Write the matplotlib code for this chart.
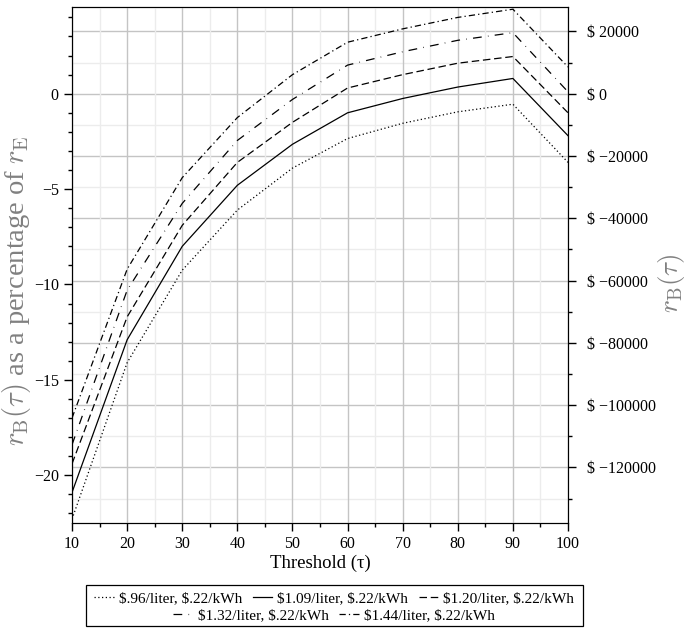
import matplotlib
matplotlib.use('Agg')
import matplotlib.pyplot as plt
from matplotlib.ticker import MultipleLocator, FuncFormatter
from matplotlib.patches import Rectangle
from matplotlib.lines import Line2D

plt.rcParams['font.family'] = 'Liberation Serif'
plt.rcParams['mathtext.fontset'] = 'cm'

# umbral (tau)
umbral = [10, 20, 30, 40, 50, 60, 70, 80, 90, 100]

# r_B(tau) como porcentaje de r_E, una serie por precio de gasolina
p096 = [-22.3, -14.1, -9.25, -6.1, -3.9, -2.35, -1.55, -0.95, -0.55, -3.6]
p109 = [-20.9, -12.9, -8.0, -4.8, -2.65, -1.0, -0.25, 0.35, 0.8, -2.2]
p120 = [-19.4, -11.7, -6.9, -3.6, -1.5, 0.3, 1.0, 1.6, 1.95, -1.0]
p132 = [-18.4, -10.3, -5.75, -2.45, -0.3, 1.5, 2.2, 2.8, 3.2, 0.1]
p144 = [-17.0, -9.2, -4.4, -1.25, 1.0, 2.7, 3.4, 4.0, 4.43, 1.4]

etiquetas = [r'\$.96/liter, \$.22/kWh', r'\$1.09/liter, \$.22/kWh', r'\$1.20/liter, \$.22/kWh',
             r'\$1.32/liter, \$.22/kWh', r'\$1.44/liter, \$.22/kWh']

# dolares por unidad de porcentaje (eje derecho)
escala = 6124

fig = plt.figure(figsize=(6.86, 6.30), dpi=100)
ax = fig.add_axes([0.105, 0.170, 0.723, 0.819])
ax2 = ax.twinx()

# grilla (la del eje derecho y la vertical)
ax2.set_ylim(-22.5 * escala, 4.55 * escala)
ax2.yaxis.set_major_locator(MultipleLocator(20000))
ax2.yaxis.set_minor_locator(MultipleLocator(10000))
ax2.grid(True, which='major', axis='y', color='#c4c4c4', lw=1.0)
ax2.grid(True, which='minor', axis='y', color='#ececec', lw=1.0)
ax.xaxis.set_major_locator(MultipleLocator(10))
ax.xaxis.set_minor_locator(MultipleLocator(5))
ax.grid(True, which='major', axis='x', color='#c4c4c4', lw=1.0)
ax.grid(True, which='minor', axis='x', color='#ececec', lw=1.0)
ax.set_axisbelow(True)
ax2.set_zorder(0)
ax.set_zorder(1)
ax.patch.set_visible(False)

estilos = [(0, (1, 2)), '-', (0, (6, 3)), (0, (7, 5, 0.5, 5)), (0, (5, 2.5, 1, 2.5))]
series = [p096, p109, p120, p132, p144]
for s, ls in zip(series, estilos):
    ax.plot(umbral, s, color='black', lw=0.9, linestyle=ls)

ax.set_xlim(10, 100)
ax.set_ylim(-22.5, 4.55)
ax.yaxis.set_major_locator(MultipleLocator(5))
ax.yaxis.set_minor_locator(MultipleLocator(1))
ax.yaxis.set_major_formatter(FuncFormatter(lambda v, p: f'{v:.0f}'.replace('-', '\u2212')))
ax2.yaxis.set_major_formatter(FuncFormatter(lambda v, p: f'$ {v:.0f}'.replace('-', '\u2212')))

for a in (ax, ax2):
    a.tick_params(which='major', direction='out', length=6, width=1, labelsize=11.5)
    a.tick_params(which='minor', direction='out', length=3, width=1)
    for sp in a.spines.values():
        sp.set_color('black')
ax2.tick_params(axis='y', pad=8)

ax.set_xlabel('Threshold (\u03c4)', fontsize=13.5, labelpad=2)
ax.set_ylabel(r'$r_{\rm B}(\tau)$ as a percentage of $r_{\rm E}$', fontsize=20.5, color='#808080')
ax.yaxis.set_label_coords(-0.079, 0.45)
ax2.set_ylabel(r'$r_{\rm B}(\tau)$', fontsize=19.5, color='#808080')
ax2.yaxis.set_label_coords(1.177, 0.465)

# leyenda en dos filas centradas
h = [Line2D([], [], color='black', lw=0.9, linestyle=ls) for ls in estilos]
opts = dict(loc='center', frameon=False, fontsize=11, handlelength=1.3, handletextpad=0.3,
            columnspacing=0.7, borderaxespad=0, borderpad=0)
fila1 = fig.legend(h[:3], etiquetas[:3], bbox_to_anchor=(0.487, 1 - 598 / 630), ncol=3, **opts)
fila2 = fig.legend(h[3:], etiquetas[3:], bbox_to_anchor=(0.487, 1 - 615 / 630), ncol=2, **opts)
fig.add_artist(Rectangle((86 / 686, 4 / 630), 497 / 686, 41 / 630, transform=fig.transFigure,
                         fill=False, edgecolor='black', lw=0.9))

fig.savefig('out.png', dpi=100)
